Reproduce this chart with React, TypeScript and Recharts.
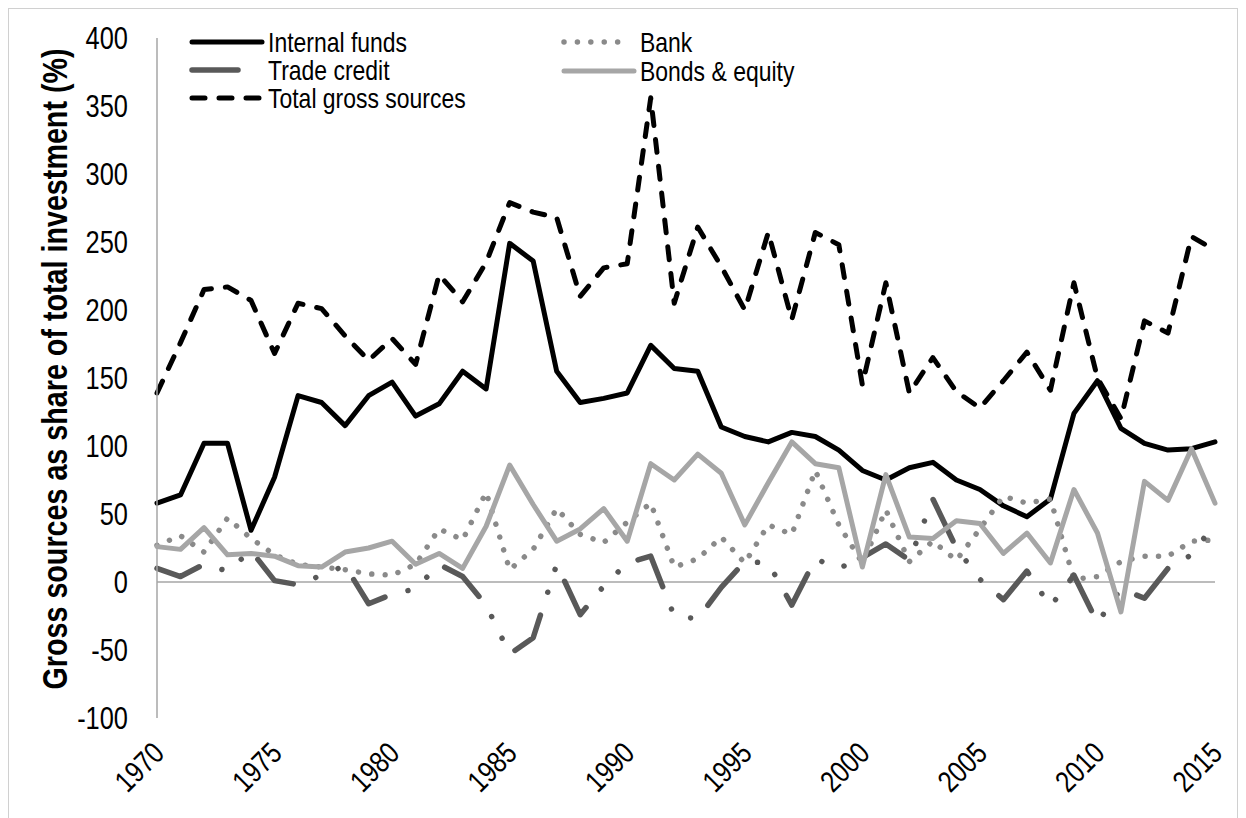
import React from 'react';
import { LineChart, Line, XAxis, YAxis, ReferenceLine } from 'recharts';

const years = [
  1970, 1971, 1972, 1973, 1974, 1975, 1976, 1977, 1978, 1979,
  1980, 1981, 1982, 1983, 1984, 1985, 1986, 1987, 1988, 1989,
  1990, 1991, 1992, 1993, 1994, 1995, 1996, 1997, 1998, 1999,
  2000, 2001, 2002, 2003, 2004, 2005, 2006, 2007, 2008, 2009,
  2010, 2011, 2012, 2013, 2014, 2015,
];

const internalFunds = [
  58, 64, 102, 102, 38, 77, 137, 132, 115, 137,
  147, 122, 131, 155, 142, 249, 236, 155, 132, 135,
  139, 174, 157, 155, 114, 107, 103, 110, 107, 97,
  82, 75, 84, 88, 75, 68, 56, 48, 61, 124,
  148, 113, 102, 97, 98, 103,
];

const bank = [
  27, 34, 22, 47, 32, 20, 13, 11, 9, 6,
  5, 13, 39, 31, 66, 9, 24, 54, 35, 29,
  44, 58, 11, 17, 33, 14, 42, 35, 82, 42,
  14, 53, 15, 30, 16, 39, 63, 58, 61, 2,
  4, 15, 19, 19, 30, 31,
];

const tradeCredit = [
  10, 4, 13, 8, 23, 1, -2, 5, 12, -16,
  -9, -5, 13, 4, -17, -53, -41, 13, -24, -3,
  14, 19, -25, -27, -4, 15, 14, -17, 17, 10,
  18, 28, 16, 61, 25, 2, -13, 8, -18, 5,
  -30, -5, -12, 10, 20, 43,
];

const bondsEquity = [
  26, 24, 40, 20, 21, 19, 12, 11, 22, 25,
  30, 13, 21, 10, 41, 86, 57, 30, 39, 54,
  30, 87, 75, 94, 80, 42, 73, 103, 87, 84,
  11, 79, 33, 32, 45, 43, 21, 36, 14, 68,
  36, -22, 74, 60, 98, 58,
];

const totalGross = [
  139, 176, 215, 217, 207, 168, 205, 201, 181, 163,
  179, 160, 226, 206, 235, 279, 272, 268, 210, 231,
  234, 356, 205, 261, 232, 200, 257, 193, 257, 248,
  145, 220, 139, 165, 140, 128, 148, 169, 141, 220,
  150, 120, 192, 183, 254, 244,
];

const xTicks = [1970, 1975, 1980, 1985, 1990, 1995, 2000, 2005, 2010, 2015];
const yTicks = [-100, -50, 0, 50, 100, 150, 200, 250, 300, 350, 400];

const seriesNames = {
  internal: 'Internal funds',
  bank: 'Bank',
  trade: 'Trade credit',
  bonds: 'Bonds & equity',
  total: 'Total gross sources',
};

const yTitle = 'Gross sources as share of total investment (%)';

const data = years.map((year, i) => ({
  year,
  internal: internalFunds[i],
  bank: bank[i],
  trade: tradeCredit[i],
  bonds: bondsEquity[i],
  total: totalGross[i],
}));

const FONT = '"Liberation Sans", Arial, Helvetica, sans-serif';
const SQ = 0.82; // horizontal squeeze to mimic a narrow face

const STYLES: Record<string, { color: string; width: number; dash?: string }> = {
  internal: { color: '#000000', width: 5 },
  bank: { color: '#8a8a8a', width: 5.5, dash: '0.01 13.4' },
  trade: { color: '#595959', width: 5.5, dash: '46 24 0.01 24 0.01 24' },
  bonds: { color: '#a6a6a6', width: 5 },
  total: { color: '#000000', width: 5, dash: '13 14' },
};

const XTick = (props: any) => {
  const { x, y, payload } = props;
  const ax = x + 9;
  const ay = y + 37;
  return (
    <g transform={`translate(${ax},${ay}) rotate(-45) scale(${SQ},1)`}>
      <text x={0} y={0} textAnchor="end" fontSize={30} fontFamily={FONT} fill="#000">
        {payload.value}
      </text>
    </g>
  );
};

const YTick = (props: any) => {
  const { x, y, payload } = props;
  return (
    <g transform={`translate(${x},${y}) scale(${SQ},1)`}>
      <text
        x={0}
        y={0}
        textAnchor="end"
        dominantBaseline="central"
        fontSize={31}
        fontFamily={FONT}
        fill="#000"
      >
        {payload.value}
      </text>
    </g>
  );
};

const YTitle = () => {
  const cx = 46;
  const cy = 360;
  return (
    <g transform={`translate(${cx},${cy}) rotate(-90) scale(${SQ},1)`}>
      <text
        x={0}
        y={0}
        textAnchor="middle"
        dominantBaseline="central"
        fontSize={35}
        fontWeight="bold"
        fontFamily={FONT}
        fill="#000"
      >
        {yTitle}
      </text>
    </g>
  );
};

const legendItems = [
  { key: 'internal', x: 181, y: 33 },
  { key: 'trade', x: 181, y: 61 },
  { key: 'total', x: 181, y: 89 },
  { key: 'bank', x: 553, y: 33 },
  { key: 'bonds', x: 553, y: 62 },
];

const LegendOverlay = () => (
  <svg
    width={900}
    height={110}
    style={{ position: 'absolute', top: 0, left: 0, pointerEvents: 'none' }}
  >
    {legendItems.map((it) => {
      const s = STYLES[it.key];
      return (
        <g key={it.key}>
          <line
            x1={it.x + 2}
            y1={it.y}
            x2={it.x + (it.key === 'bank' ? 62 : 72)}
            y2={it.y}
            stroke={s.color}
            strokeWidth={s.width}
            strokeDasharray={s.dash}
            strokeLinecap="round"
          />
          <g transform={`translate(${it.x + 78},${it.y}) scale(${SQ},1)`}>
            <text
              x={0}
              y={0}
              dominantBaseline="central"
              fontSize={28}
              fontFamily={FONT}
              fill="#000"
            >
              {seriesNames[it.key as keyof typeof seriesNames]}
            </text>
          </g>
        </g>
      );
    })}
  </svg>
);

export default function App() {
  return (
    <div
      style={{
        width: 1230,
        height: 812,
        border: '1px solid #d0d0d0',
        boxSizing: 'border-box',
        background: '#fff',
        position: 'relative',
      }}
    >
      <LineChart
        width={1228}
        height={808}
        data={data}
        margin={{ top: 29, right: 22, bottom: 0, left: 0 }}
      >
        <XAxis
          dataKey="year"
          type="number"
          domain={[1970, 2015]}
          ticks={xTicks}
          axisLine={false}
          tickLine={false}
          tickSize={0}
          tickMargin={0}
          height={99}
          interval={0}
          tick={<XTick />}
        />
        <YAxis
          type="number"
          domain={[-100, 400]}
          ticks={yTicks}
          width={148}
          axisLine={{ stroke: '#a6a6a6', strokeWidth: 1.5 }}
          tickLine={false}
          tickSize={0}
          tickMargin={29}
          interval={0}
          tick={<YTick />}
          label={<YTitle />}
        />
        <ReferenceLine y={0} stroke="#a6a6a6" strokeWidth={1.5} />
        {(['internal', 'bank', 'trade', 'bonds', 'total'] as const).map((k) => (
          <Line
            key={k}
            type="linear"
            dataKey={k}
            name={seriesNames[k]}
            stroke={STYLES[k].color}
            strokeWidth={STYLES[k].width}
            strokeDasharray={STYLES[k].dash}
            strokeLinecap="round"
            strokeLinejoin="round"
            dot={false}
            activeDot={false}
            isAnimationActive={false}
          />
        ))}
      </LineChart>
      <LegendOverlay />
    </div>
  );
}
